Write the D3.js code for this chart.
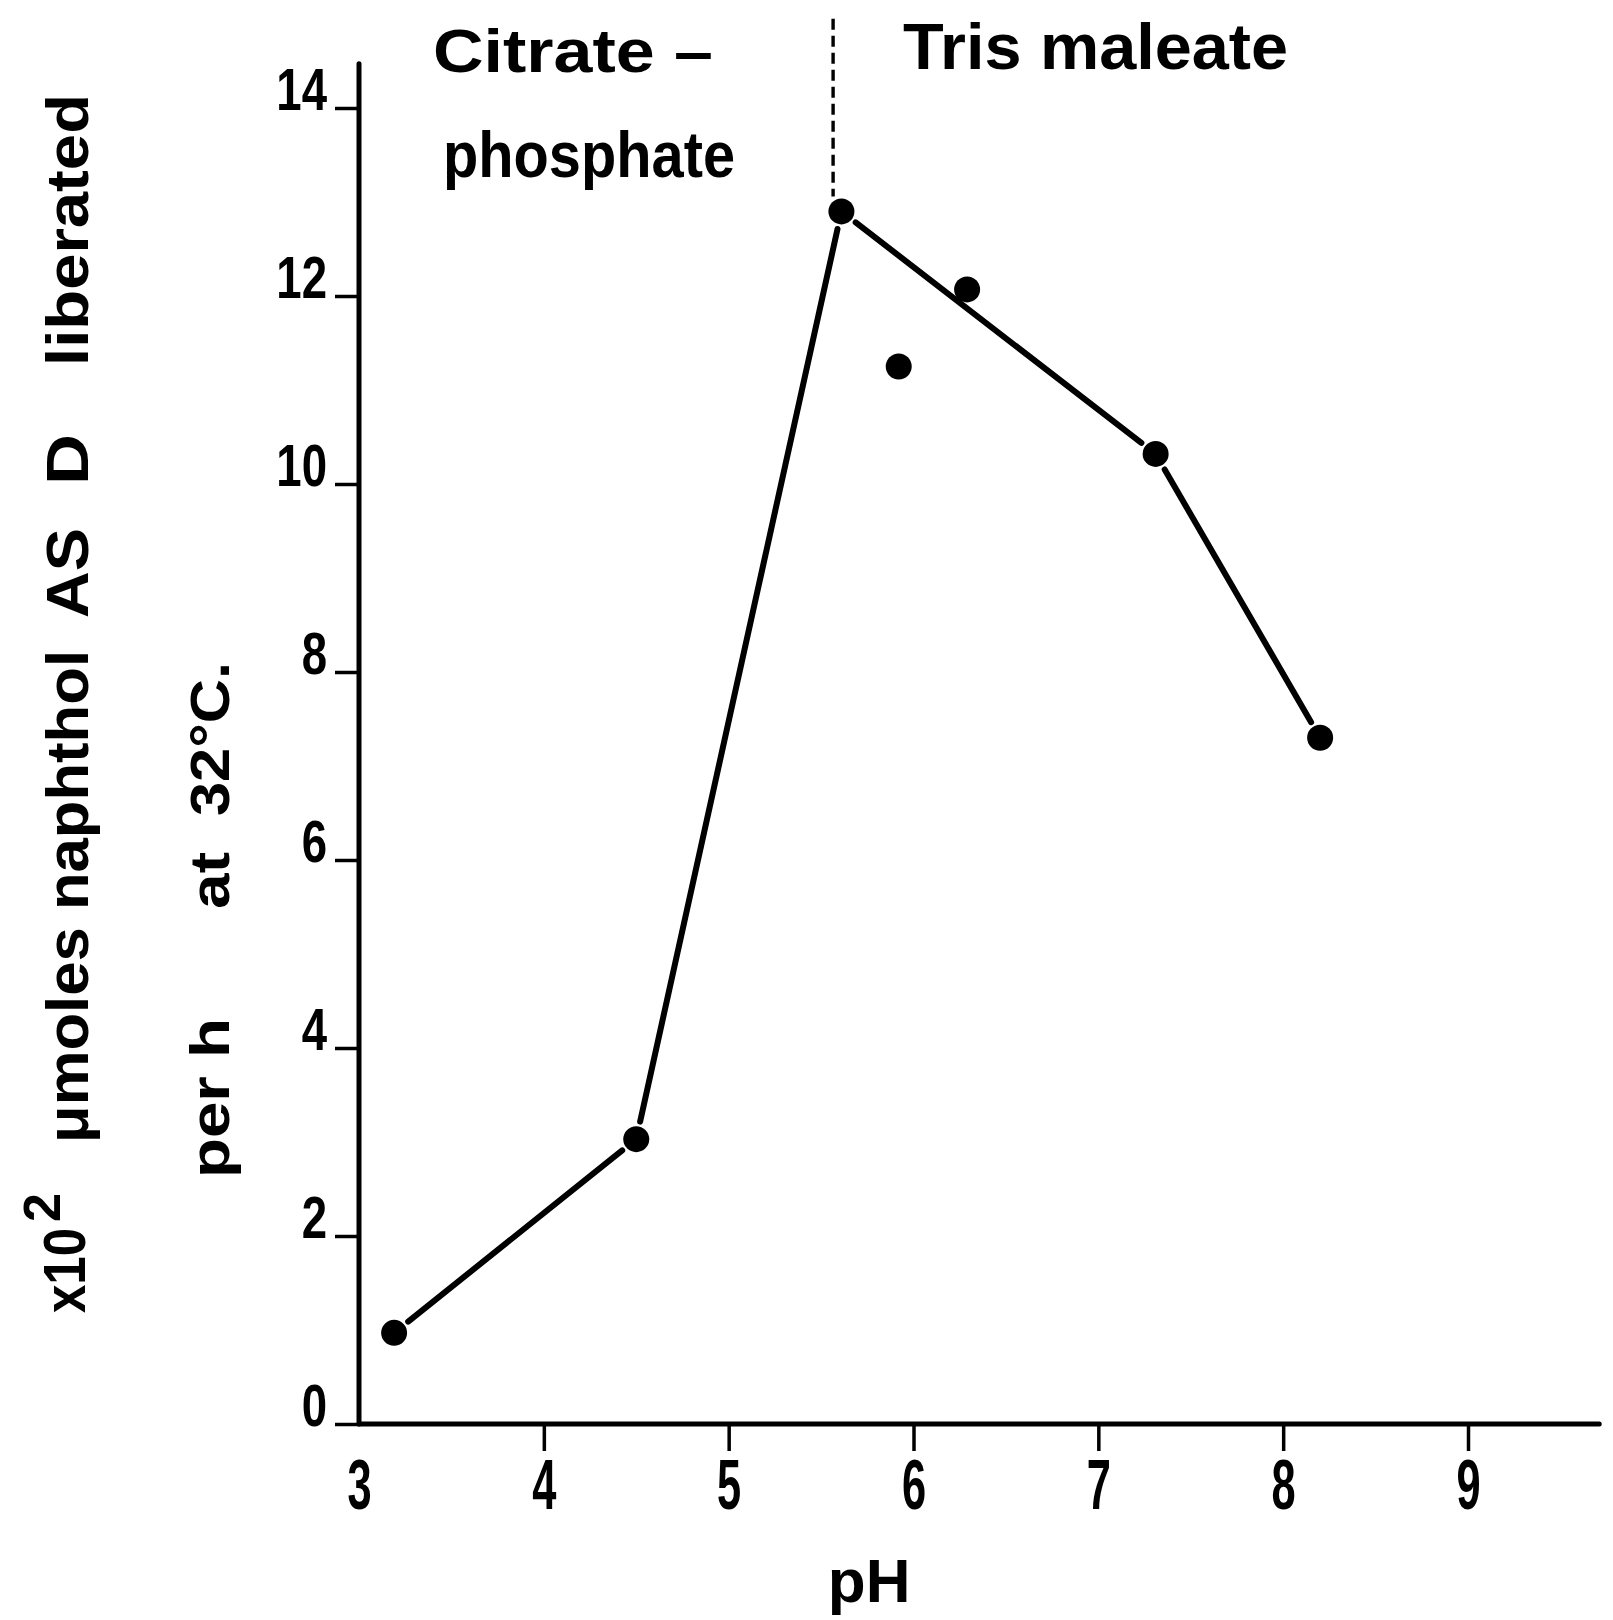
<!DOCTYPE html>
<html>
<head>
<meta charset="utf-8">
<script src="https://cdn.jsdelivr.net/npm/d3@7"></script>
<style>
  body { margin: 0; background: #fff; }
  svg { display: block; background: #fff; }
  text { font-family: "Liberation Sans", Arial, Helvetica, sans-serif; font-weight: bold; fill: #000; }
</style>
</head>
<body>
<svg id="chart" width="1613" height="1620"></svg>
<script>
// pH optimum of the enzyme: naphthol AS-D liberated per hour at 32 °C
const phValues  = [3.19, 4.50, 5.61, 5.92, 6.29, 7.31, 8.20];
const activity  = [0.97, 3.03, 12.9, 11.25, 12.07, 10.32, 7.3];
// which measurements the hand-drawn curve passes through
const onCurve   = [true, true, true, false, false, true, true];

const xTicks = [3, 4, 5, 6, 7, 8, 9];
const yTicks = [0, 2, 4, 6, 8, 10, 12, 14];

// pH where the buffer changes from citrate-phosphate to tris maleate
const bufferBoundary = 5.565;

const svg = d3.select("#chart");

const x = d3.scaleLinear().domain([3, 9]).range([359, 1468]);
const y = d3.scaleLinear().domain([0, 14]).range([1424, 108]);

// ---- axes -------------------------------------------------------------
const gx = svg.append("g")
  .attr("transform", `translate(0,${y(0)})`)
  .call(d3.axisBottom(x).tickValues(xTicks).tickSize(27).tickPadding(8).tickFormat(d3.format("d")));
gx.select(".domain").remove();
gx.selectAll(".tick line").attr("stroke", "#000").attr("stroke-width", 3.5)
  .attr("opacity", d => d === 3 ? 0 : 1);
gx.selectAll(".tick text")
  .attr("font-family", "Liberation Sans, Arial, sans-serif")
  .attr("font-weight", "bold")
  .attr("font-size", 70)
  .attr("transform", "scale(0.62,1)");

const yTickSize = 24, yPad = 8, yScaleX = 0.76;
const gy = svg.append("g")
  .attr("transform", `translate(${x(3)},0)`)
  .call(d3.axisLeft(y).tickValues(yTicks).tickSize(yTickSize).tickPadding(yPad));
gy.select(".domain").remove();
gy.selectAll(".tick line").attr("stroke", "#000").attr("stroke-width", 3.5);
gy.selectAll(".tick text")
  .attr("font-family", "Liberation Sans, Arial, sans-serif")
  .attr("font-weight", "bold")
  .attr("font-size", 60)
  .attr("x", -(yTickSize + yPad) / yScaleX)
  .attr("dy", "0.02em")
  .attr("transform", `scale(${yScaleX},1)`);

// axis lines run a little past the last ticks
svg.append("line")
  .attr("x1", x(3)).attr("x2", x(9.71))
  .attr("y1", y(0)).attr("y2", y(0))
  .attr("stroke", "#000").attr("stroke-width", 5).attr("stroke-linecap", "round");
svg.append("line")
  .attr("x1", x(3)).attr("x2", x(3))
  .attr("y1", y(0)).attr("y2", y(14.47))
  .attr("stroke", "#000").attr("stroke-width", 5).attr("stroke-linecap", "round");

// ---- buffer boundary ----------------------------------------------------
const peakIdx = activity.indexOf(d3.max(activity));
svg.append("line")
  .attr("x1", x(bufferBoundary)).attr("x2", x(bufferBoundary))
  .attr("y1", y(14.95)).attr("y2", y(activity[peakIdx]) - 15)
  .attr("stroke", "#000").attr("stroke-width", 3.4)
  .attr("stroke-dasharray", "11,6");

// ---- curve: straight segments that stop short of each dot ---------------
const curvePts = phValues
  .map((p, i) => ({ px: x(p), py: y(activity[i]), on: onCurve[i] }))
  .filter(d => d.on);
const gap = 18;
const segs = d3.pairs(curvePts).map(([a, b]) => {
  const dx = b.px - a.px, dy = b.py - a.py, len = Math.hypot(dx, dy);
  const ux = dx / len, uy = dy / len;
  return [[a.px + ux * gap, a.py + uy * gap], [b.px - ux * gap, b.py - uy * gap]];
});
svg.append("g").selectAll("path")
  .data(segs)
  .join("path")
  .attr("d", d3.line())
  .attr("fill", "none")
  .attr("stroke", "#000")
  .attr("stroke-width", 6)
  .attr("stroke-linecap", "round");

// ---- measured points ------------------------------------------------------
svg.append("g").selectAll("circle")
  .data(phValues.map((p, i) => [p, activity[i]]))
  .join("circle")
  .attr("cx", d => x(d[0]))
  .attr("cy", d => y(d[1]))
  .attr("r", 13)
  .attr("fill", "#000");

// ---- buffer labels --------------------------------------------------------
function label(txt, px, py, size, len) {
  svg.append("text")
    .attr("x", px).attr("y", py)
    .attr("font-size", size)
    .attr("textLength", len)
    .attr("lengthAdjust", "spacingAndGlyphs")
    .text(txt);
}
label("Citrate \u2013", 433, 72, 62, 280);
label("phosphate", 443, 177, 64, 292);
label("Tris maleate", 903, 69, 64, 385);

// ---- axis titles ------------------------------------------------------------
svg.append("text")
  .attr("x", x(5.76)).attr("y", 1602)
  .attr("text-anchor", "middle")
  .attr("font-size", 62)
  .text("pH");

// rotated y title, placed word by word (bottom-to-top)
function vword(txt, bx, yStart, yEnd, size) {
  svg.append("text")
    .attr("transform", `translate(${bx},${yStart}) rotate(-90)`)
    .attr("font-size", size)
    .attr("textLength", yStart - yEnd)
    .attr("lengthAdjust", "spacingAndGlyphs")
    .text(txt);
}
vword("x10", 85, 1313, 1228, 60);
vword("2", 60, 1222, 1193, 52);
vword("\u03bcmoles naphthol", 88, 1143, 650, 60);
vword("AS", 88, 618, 528, 60);
vword("D", 88, 485, 434, 60);
vword("liberated", 88, 366, 94, 60);

vword("per h", 229, 1178, 1018, 56);
vword("at", 229, 909, 852, 56);
vword("32\u00b0C.", 229, 816, 662, 56);
</script>
</body>
</html>
